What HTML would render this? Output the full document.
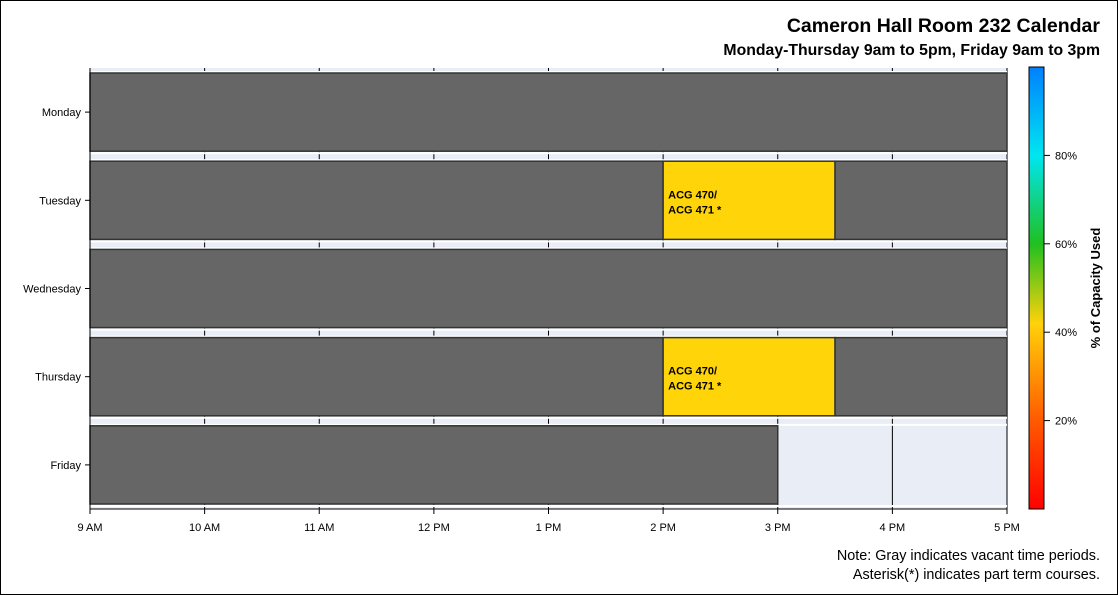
<!DOCTYPE html>
<html><head><meta charset="utf-8"><style>
body{margin:0;background:#fff;}
svg{display:block;font-family:"Liberation Sans",Arial,sans-serif;}
</style></head><body>
<svg id="chart" width="1118" height="595">
<defs>
<linearGradient id="cb" x1="0" y1="1" x2="0" y2="0">
<stop offset="0" stop-color="#ff0000"/>
<stop offset="0.2" stop-color="#ff5a00"/>
<stop offset="0.42" stop-color="#ffd20a"/>
<stop offset="0.6" stop-color="#20c020"/>
<stop offset="0.8" stop-color="#00e6f0"/>
<stop offset="1" stop-color="#0080ff"/>
</linearGradient>
</defs>
<rect x="0.5" y="0.5" width="1117" height="594" fill="#fff" stroke="#000"/>
<text x="1100" y="32" text-anchor="end" font-size="19.5" font-weight="bold">Cameron Hall Room 232 Calendar</text>
<text x="1100" y="55" text-anchor="end" font-size="15.8" font-weight="bold">Monday-Thursday 9am to 5pm, Friday 9am to 3pm</text>
<rect x="90" y="68" width="917" height="441" fill="#e9edf6"/>
<g id="grid"></g>
<g id="bars"></g>
<g id="axes"></g>
<rect x="1029" y="67" width="15" height="442" fill="url(#cb)" stroke="#000" stroke-width="1"/>
<g id="cbticks"></g>
<text transform="translate(1100,288) rotate(-90)" text-anchor="middle" font-size="13" font-weight="bold">% of Capacity Used</text>
<text x="1100" y="560" text-anchor="end" font-size="14.4">Note: Gray indicates vacant time periods.</text>
<text x="1100" y="579" text-anchor="end" font-size="14.4">Asterisk(*) indicates part term courses.</text>
</svg>
<script>
const days=["Monday","Tuesday","Wednesday","Thursday","Friday"];
const hourLabels=["9 AM","10 AM","11 AM","12 PM","1 PM","2 PM","3 PM","4 PM","5 PM"];
const segDay=[0,1,1,1,2,3,3,3,4];
const segStart=[9,9,14,15.5,9,9,14,15.5,9];
const segEnd=[17,14,15.5,17,17,14,15.5,17,15];
const segPct=[null,null,42,null,null,null,42,null,null];
const segLabel=["","","ACG 470/|ACG 471 *","","","","ACG 470/|ACG 471 *","",""];
const cbTicks=[20,40,60,80];
const NS="http://www.w3.org/2000/svg";
const X0=90,X1=1007,Y0=68,Y1=509;
const x=h=>X0+(h-9)/8*(X1-X0);
const rowH=(Y1-Y0)/days.length;
const yc=i=>Y0+rowH*(i+0.5);
function mk(tag,attrs,parent){const e=document.createElementNS(NS,tag);for(const k in attrs)e.setAttribute(k,attrs[k]);document.getElementById(parent).appendChild(e);return e;}
function pctColor(p){return "#ffd50a";}
hourLabels.forEach((l,i)=>{
 const g=mk("line",{x1:x(9+i),x2:x(9+i),y1:Y0,y2:Y1,stroke:"#000","stroke-width":1},"grid");
 
 
});
days.forEach((d,i)=>{
 const s=mk("rect",{x:X0,y:Y0+rowH*i+3,width:X1-X0,height:2,fill:"#fff"},"grid");
 
 
 const s2=mk("rect",{x:X0,y:Y0+rowH*(i+1)-4,width:X1-X0,height:2,fill:"#fff"},"grid");
 
 
});
segDay.forEach((d,i)=>{
 const top=Y0+rowH*d+5, h=rowH-10;
 const fill=segPct[i]==null?"#666666":pctColor(segPct[i]);
 const r=mk("rect",{x:x(segStart[i]),y:top,width:x(segEnd[i])-x(segStart[i]),height:h,fill:fill,stroke:"#333","stroke-width":1.5},"bars");
 
 
 if(segLabel[i]){
  segLabel[i].split("|").forEach((t,j)=>{
   const tx=mk("text",{x:x(segStart[i])+5,y:yc(d)-2+j*15,"font-size":11,"font-weight":"bold"},"bars");
   tx.textContent=t;
   
   
  });
 }
});
const ax=mk("line",{x1:X0,x2:X1,y1:Y1,y2:Y1,stroke:"#000"},"axes");


const ay=mk("line",{x1:X0,x2:X0,y1:Y0,y2:Y1,stroke:"#000"},"axes");


hourLabels.forEach((l,i)=>{
 const tk=mk("line",{x1:x(9+i),x2:x(9+i),y1:Y1,y2:Y1+5,stroke:"#000"},"axes");
 
 
 const t=mk("text",{x:x(9+i),y:531,"text-anchor":"middle","font-size":11},"axes");
 t.textContent=l;
 
 
});
days.forEach((d,i)=>{
 const tk=mk("line",{x1:X0-5,x2:X0,y1:yc(i),y2:yc(i),stroke:"#000"},"axes");
 
 
 const t=mk("text",{x:X0-9,y:yc(i)+4,"text-anchor":"end","font-size":11},"axes");
 t.textContent=d;
 
 
});
cbTicks.forEach(p=>{
 const yy=509-p/100*442;
 const tk=mk("line",{x1:1044,x2:1050,y1:yy,y2:yy,stroke:"#000"},"cbticks");
 
 
 const t=mk("text",{x:1055,y:yy+4,"font-size":11},"cbticks");
 t.textContent=p+"%";
 
 
});
</script>
</body></html>
